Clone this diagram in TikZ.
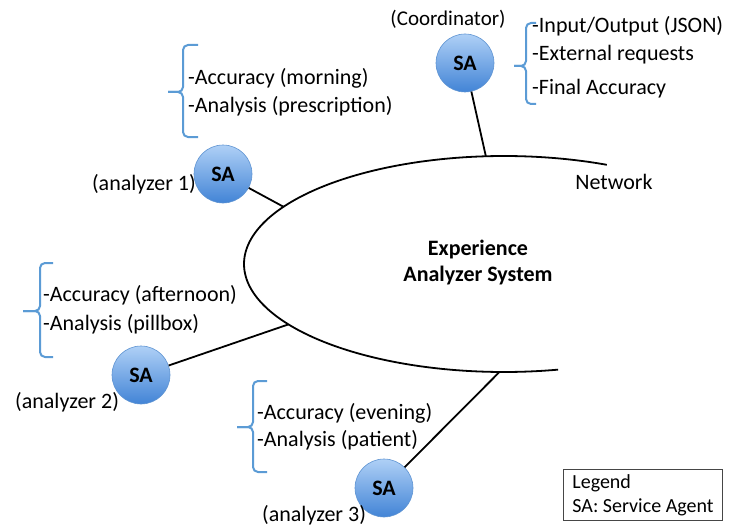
\documentclass[tikz,border=0pt]{standalone}
\usepackage{fontspec}
\setmainfont{Carlito}
\definecolor{bracecol}{RGB}{91,155,213}
\definecolor{satop}{RGB}{175,208,246}
\definecolor{sabot}{RGB}{66,132,214}
\definecolor{saedge}{RGB}{95,148,210}
\definecolor{legedge}{RGB}{70,70,70}
\newcommand\agentbrace[6]{%
  \draw[bracestyle] ({#1+#5},{#2}) -- ({#1},{#2}) -- ({#1},{#4}) -- ({#1-#6},{#4});
  \draw[bracestyle] ({#1+#5},{#3}) -- ({#1},{#3}) -- ({#1},{#4}) -- ({#1-#6},{#4});}
\begin{document}
\begin{tikzpicture}[x=1pt,y=-1pt,
  txt/.style={font=\fontsize{22}{26}\selectfont, inner sep=0pt},
  agent/.style={circle, minimum size=58pt, inner sep=0pt, top color=satop, bottom color=sabot, draw=saedge, line width=0.6pt, font=\fontsize{22}{26}\selectfont\bfseries},
  link/.style={line width=1.8pt, black},
  bracestyle/.style={draw=bracecol, line width=2pt, rounded corners=5pt},
  item/.style={txt, anchor=west},
]
\useasboundingbox (0,0) rectangle (729,527);
% system arc
\draw[line width=1.8pt] plot[domain=66.7:282, samples=150, smooth] ({504+260*cos(\x)},{264-108*sin(\x)});
\coordinate (jc) at ({504+260*cos(94)},{264-108*sin(94)});
\coordinate (j1) at ({504+260*cos(148)},{264-108*sin(148)});
\coordinate (j2) at ({504+260*cos(214)},{264-108*sin(214)});
\coordinate (j3) at ({504+260*cos(269)},{264-108*sin(269)});
\node[txt, font=\fontsize{22}{26}\selectfont\bfseries, align=center] (eas) at (478,263) {Experience\\Analyzer System};
\node[txt] (net) at (614,182) {Network};
% agents
\node[agent] (co) at (465,63) {SA};
\node[agent] (a1) at (223,174) {SA};
\node[agent] (a2) at (141,375) {SA};
\node[agent] (a3) at (384,488) {SA};
\draw[link] (co) -- (jc);
\draw[link] (a1) -- (j1);
\draw[link] (a2) -- (j2);
\draw[link] (a3) -- (j3);
% labels
\node[txt, font=\fontsize{21}{25}\selectfont] (coL) at (448,19) {(Coordinator)};
\node[txt, anchor=east] (a1L) at (196,184) {(analyzer 1)};
\node[txt, anchor=west] (a2L) at (15,402) {(analyzer 2)};
\node[txt, anchor=west] (a3L) at (262,515) {(analyzer 3)};
% braces and items
\agentbrace{526}{23}{104}{66}{10}{12}
\node[item] (c1) at (532,26) {-Input/Output (JSON)};
\node[item] (c2) at (532,55) {-External requests};
\node[item] (c3) at (532,89) {-Final Accuracy};
\agentbrace{183}{45}{137}{92}{15}{15}
\node[item] (b1) at (188,78) {-Accuracy (morning)};
\node[item] (b2) at (188,106) {-Analysis (prescription)};
\agentbrace{40}{263}{357}{311}{13}{17}
\node[item] (d1) at (43,295) {-Accuracy (afternoon)};
\node[item] (d2) at (43,324) {-Analysis (pillbox)};
\agentbrace{253}{381}{472}{427}{14}{16}
\node[item] (e1) at (257,413) {-Accuracy (evening)};
\node[item] (e2) at (257,440) {-Analysis (patient)};
% legend
\node[txt, font=\fontsize{20}{24}\selectfont, draw=legedge, line width=0.8pt, anchor=north west, align=left, inner xsep=9pt, inner ysep=5pt] (leg) at (563,469) {Legend\\SA: Service Agent};
\end{tikzpicture}
\end{document}
